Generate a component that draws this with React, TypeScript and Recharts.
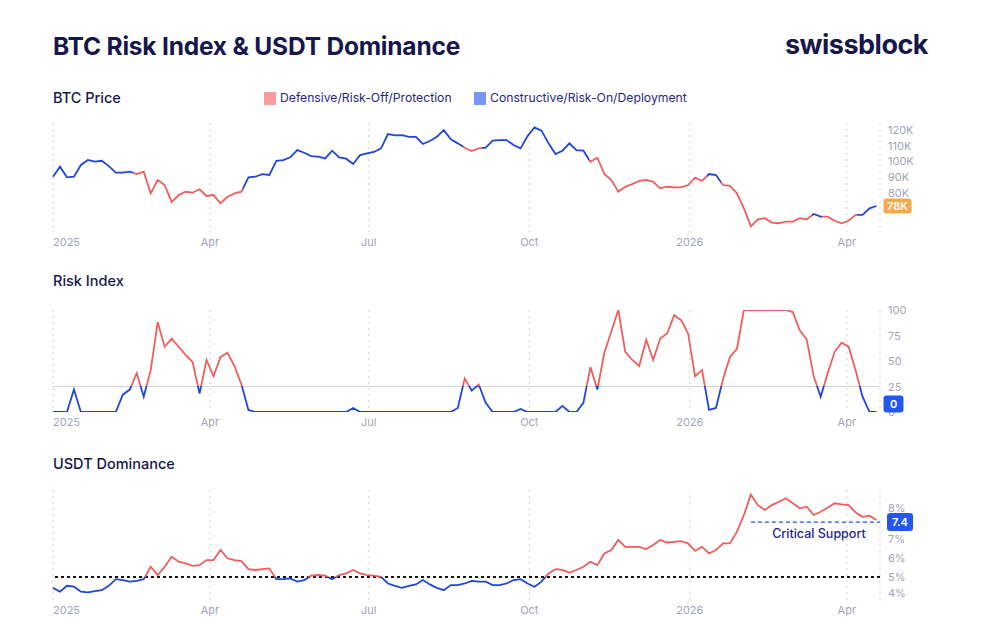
import React from 'react';
import { LineChart, Line, XAxis, YAxis, CartesianGrid, ReferenceLine, ReferenceDot } from 'recharts';

// one value every 4 days, starting Jan 1 2025
const STEP_DAYS = 4;
const LAST_DAY = 474;
const MONTH_TICKS = [0, 90, 181, 273, 365, 455];
const MONTH_LABELS = ['2025', 'Apr', 'Jul', 'Oct', '2026', 'Apr'];

const PRICE_TICKS = [70, 80, 90, 100, 110, 120];
const RISK_TICKS = [0, 25, 50, 75, 100];
const USDT_TICKS = [4, 5, 6, 7, 8];

const PRICE_DOMAIN = [54.9, 124.5];
const RISK_DOMAIN = [0, 100];
const USDT_DOMAIN = [4, 8.8];

// BTC price in thousands of USD
const BTC_PRICE_K = [
  90.2, 96.6, 89.8, 90.2, 97.7, 100.9, 99.8, 100.4, 97.0, 92.8, 92.8, 93.4, 91.9, 93.4, 79.6, 88.1,
  84.9, 74.0, 78.5, 80.6, 80.0, 82.2, 77.9, 78.5, 73.2, 77.4, 79.6, 80.6, 89.8, 90.2, 91.9, 91.3,
  100.4, 100.8, 102.6, 107.2, 105.5, 103.4, 103.0, 101.9, 106.8, 102.6, 101.7, 98.3, 104.0, 105.1, 106.0, 108.3,
  117.4, 116.6, 116.8, 115.7, 115.7, 111.1, 113.0, 115.7, 120.0, 114.1, 111.5, 108.7, 106.6, 108.3, 108.7, 113.2,
  113.6, 113.6, 110.4, 108.3, 116.2, 121.7, 119.6, 111.5, 104.7, 106.8, 111.5, 107.2, 106.8, 99.8, 102.3, 91.9,
  88.1, 80.6, 83.8, 85.5, 87.6, 88.1, 87.0, 82.8, 83.8, 83.4, 83.4, 84.9, 89.6, 87.5, 91.9, 91.3,
  84.9, 84.3, 79.6, 70.0, 58.5, 63.0, 63.7, 60.9, 60.5, 61.5, 61.5, 63.7, 63.0, 66.4, 64.7, 64.7,
  62.1, 60.5, 62.1, 65.8, 65.8, 70.0, 71.5,
];

const RISK_INDEX = [
  0, 0, 0, 22, 0, 0, 0, 0, 0, 0, 17, 22, 38, 15, 41, 88,
  64, 72, 64, 56, 49, 18, 51, 35, 54, 58, 45, 27, 2, 0, 0, 0,
  0, 0, 0, 0, 0, 0, 0, 0, 0, 0, 0, 4, 0, 0, 0, 0,
  0, 0, 0, 0, 0, 0, 0, 0, 0, 0, 4, 33, 21, 27, 9, 0,
  0, 0, 0, 3, 0, 0, 0, 0, 0, 6, 0, 0, 9, 44, 22, 58,
  79, 100, 59, 51, 45, 71, 51, 72, 77, 95, 90, 77, 35, 41, 2, 4,
  32, 54, 62, 100, 100, 100, 100, 100, 100, 100, 98, 80, 71, 35, 15, 38,
  59, 68, 64, 41, 15, 0, 0,
];

// USDT dominance in %
const USDT_DOMINANCE = [
  4.53, 4.36, 4.62, 4.58, 4.36, 4.33, 4.39, 4.43, 4.62, 4.91, 4.87, 4.8, 4.83, 4.91, 5.45, 5.09,
  5.45, 5.89, 5.67, 5.6, 5.49, 5.52, 5.74, 5.74, 6.18, 5.82, 5.74, 5.7, 5.35, 5.31, 5.35, 5.38,
  4.91, 4.91, 4.94, 4.8, 4.87, 5.06, 5.09, 5.06, 4.91, 5.09, 5.16, 5.31, 5.16, 5.09, 5.06, 5.01,
  4.72, 4.62, 4.53, 4.62, 4.68, 4.87, 4.68, 4.53, 4.43, 4.65, 4.65, 4.72, 4.83, 4.8, 4.8, 4.65,
  4.65, 4.72, 4.87, 4.91, 4.72, 4.58, 4.8, 5.16, 5.35, 5.31, 5.2, 5.31, 5.45, 5.67, 5.52, 6.03,
  6.18, 6.62, 6.32, 6.32, 6.32, 6.22, 6.4, 6.62, 6.51, 6.54, 6.57, 6.47, 6.14, 6.32, 6.03, 6.18,
  6.47, 6.47, 6.98, 7.71, 8.6, 8.14, 7.93, 8.14, 8.29, 8.44, 8.22, 8.0, 8.07, 7.71, 7.85, 8.03,
  8.22, 8.17, 8.14, 7.82, 7.63, 7.68, 7.49,
];

// days (from Jan 1 2025) where the regime was Defensive/Risk-Off
const DEFENSIVE_PERIODS = [
  [46, 109],
  [235, 246],
  [307, 375],
  [383, 435],
  [441, 461],
];

const RISK_THRESHOLD = 25;
const USDT_THRESHOLD = 5;
const CRITICAL_SUPPORT = 7.4;
const CRITICAL_SUPPORT_START = 400;
const CRITICAL_LABEL_DAY = 439;
const LAST_PRICE_LABEL = '78K';

const RED = '#ef5d5d';
const BLUE = '#1f46d8';
const BADGE_BLUE = '#2456f2';
const NAVY = '#16174d';
const TICK_GREY = '#a2a5b9';
const FONT = 'Inter, sans-serif';

const rows = BTC_PRICE_K.map((price, i) => ({
  day: i * STEP_DAYS,
  price,
  risk: RISK_INDEX[i],
  usdt: USDT_DOMINANCE[i],
}));
const lastRow = rows[rows.length - 1];

const regimeStops = () => {
  const span = lastRow.day;
  const stops: { offset: number; color: string }[] = [{ offset: 0, color: BLUE }];
  DEFENSIVE_PERIODS.forEach(([a, b]) => {
    stops.push({ offset: a / span, color: BLUE }, { offset: a / span, color: RED });
    stops.push({ offset: b / span, color: RED }, { offset: b / span, color: BLUE });
  });
  stops.push({ offset: 1, color: BLUE });
  return stops;
};

const thresholdOffset = (values: number[], threshold: number) => {
  const max = Math.max(...values);
  const min = Math.min(...values);
  return (max - threshold) / (max - min);
};

const MonthTick = ({ x, y, payload }: any) => (
  <text
    x={x}
    y={y}
    dy={12}
    textAnchor={payload.value === 0 ? 'start' : 'middle'}
    fill={TICK_GREY}
    fontSize={11}
    fontFamily={FONT}
  >
    {MONTH_LABELS[MONTH_TICKS.indexOf(payload.value)]}
  </text>
);

const makeValueTick = (format: (v: number) => string, nudge: Record<number, number> = {}) => ({ x, y, payload }: any) => (
  <text x={x} y={y + (nudge[payload.value] || 0)} dy={4} textAnchor="start" fill={TICK_GREY} fontSize={11} fontFamily={FONT}>
    {format(payload.value)}
  </text>
);

const makeBadge = (text: string, fill: string, w: number, h: number, lift = 0) => ({ cx, cy }: any) => (
  <g>
    <rect x={cx + 7} y={cy - h / 2 - lift} width={w} height={h} rx={3} fill={fill} />
    <text
      x={cx + 7 + w / 2}
      y={cy - lift}
      dy={4}
      textAnchor="middle"
      fill="#fff"
      fontSize={11}
      fontWeight={600}
      fontFamily={FONT}
    >
      {text}
    </text>
  </g>
);

const SupportLabel = ({ cx, cy }: any) => (
  <text x={cx} y={cy} dy={16} textAnchor="middle" fill="#26268a" fontSize={12.5} fontWeight={500} fontFamily={FONT}>
    Critical Support
  </text>
);

const CHART_MARGIN = { top: 10, right: 60, bottom: 0, left: 53 };
// overlay charts hide their axes, so the axis room goes into the margin
const OVERLAY_MARGIN = { top: 10, right: 120, bottom: 20, left: 53 };

const xAxisProps = {
  dataKey: 'day',
  type: 'number' as const,
  domain: [0, LAST_DAY],
  ticks: MONTH_TICKS,
  tick: <MonthTick />,
  tickLine: false,
  axisLine: false,
  tickSize: 0,
  height: 20,
  interval: 0 as const,
};

const yAxisBase = {
  orientation: 'right' as const,
  width: 60,
  tickLine: false,
  axisLine: false,
  tickSize: 0,
  tickMargin: 8,
  allowDataOverflow: true,
  interval: 0 as const,
};

const Grid = () => <CartesianGrid horizontal={false} stroke="#cfd1dc" strokeDasharray="2 4" />;

// badges sit above the tick labels, so they get their own transparent chart on top
const BadgeLayer = ({ top, height, domain, children }: any) => (
  <div style={{ position: 'absolute', left: 0, top }}>
    <LineChart width={1000} height={height} data={rows} margin={OVERLAY_MARGIN}>
      <XAxis dataKey="day" type="number" domain={[0, LAST_DAY]} hide />
      <YAxis domain={domain} hide allowDataOverflow />
      {children}
    </LineChart>
  </div>
);

const panelTitle = (text: string, top: number) => (
  <div style={{ position: 'absolute', left: 53, top, fontSize: 14.5, fontWeight: 500, color: NAVY, lineHeight: 1 }}>{text}</div>
);

const LegendItem = ({ color, label, left }: { color: string; label: string; left: number }) => (
  <div style={{ position: 'absolute', left, top: 92, display: 'flex', alignItems: 'center', gap: 4 }}>
    <div style={{ width: 12, height: 13, background: color }} />
    <span style={{ fontSize: 12.2, color: '#28287e', lineHeight: 1 }}>{label}</span>
  </div>
);

export default function App() {
  const stops = regimeStops();
  const riskSplit = thresholdOffset(RISK_INDEX, RISK_THRESHOLD);
  const usdtSplit = thresholdOffset(USDT_DOMINANCE, USDT_THRESHOLD);

  return (
    <div style={{ position: 'absolute', left: 0, top: 0, width: 1000, height: 639, background: '#fff', fontFamily: FONT }}>
      <div style={{ position: 'absolute', left: 53, top: 34, fontSize: 24.5, fontWeight: 700, color: NAVY, lineHeight: 1, letterSpacing: -0.2 }}>
        BTC Risk Index &amp; USDT Dominance
      </div>
      <div style={{ position: 'absolute', right: 72, top: 31, fontSize: 27, fontWeight: 700, color: NAVY, lineHeight: 1, letterSpacing: -0.5 }}>
        swissblock
      </div>

      {panelTitle('BTC Price', 91)}
      <LegendItem color="#f79e9b" label="Defensive/Risk-Off/Protection" left={264} />
      <LegendItem color="#7896f6" label="Constructive/Risk-On/Deployment" left={474} />

      <div style={{ position: 'absolute', left: 0, top: 113 }}>
        <LineChart width={1000} height={139} data={rows} margin={CHART_MARGIN}>
          <defs>
            <linearGradient id="priceRegime" x1="0" y1="0" x2="1" y2="0">
              {stops.map((s, i) => (
                <stop key={i} offset={s.offset} stopColor={s.color} />
              ))}
            </linearGradient>
          </defs>
          {Grid()}
          <XAxis {...xAxisProps} />
          <YAxis {...yAxisBase} domain={PRICE_DOMAIN} ticks={PRICE_TICKS} tick={makeValueTick((v) => `${v}K`)} />
          <Line
            type="linear"
            dataKey="price"
            stroke="url(#priceRegime)"
            strokeWidth={1.8}
            dot={false}
            isAnimationActive={false}
          />
        </LineChart>
      </div>
      <BadgeLayer top={113} height={139} domain={PRICE_DOMAIN}>
        <ReferenceDot x={lastRow.day} y={lastRow.price} shape={makeBadge(LAST_PRICE_LABEL, '#f7a84a', 28, 15)} />
      </BadgeLayer>

      {panelTitle('Risk Index', 274)}
      <div style={{ position: 'absolute', left: 0, top: 300 }}>
        <LineChart width={1000} height={132} data={rows} margin={CHART_MARGIN}>
          <defs>
            <linearGradient id="riskSplit" x1="0" y1="0" x2="0" y2="1">
              <stop offset={0} stopColor={RED} />
              <stop offset={riskSplit} stopColor={RED} />
              <stop offset={riskSplit} stopColor={BLUE} />
              <stop offset={1} stopColor={BLUE} />
            </linearGradient>
          </defs>
          {Grid()}
          <XAxis {...xAxisProps} />
          <YAxis {...yAxisBase} domain={RISK_DOMAIN} ticks={RISK_TICKS} tick={makeValueTick((v) => `${v}`)} />
          <ReferenceLine y={RISK_THRESHOLD} stroke="#d3d5de" strokeWidth={1} />
          <Line
            type="linear"
            dataKey="risk"
            stroke="url(#riskSplit)"
            strokeWidth={1.8}
            dot={false}
            isAnimationActive={false}
          />
        </LineChart>
      </div>
      <BadgeLayer top={300} height={132} domain={RISK_DOMAIN}>
        <ReferenceDot x={lastRow.day} y={lastRow.risk} shape={makeBadge(String(lastRow.risk), BADGE_BLUE, 20, 17, 8)} />
      </BadgeLayer>

      {panelTitle('USDT Dominance', 457)}
      <div style={{ position: 'absolute', left: 0, top: 480 }}>
        <LineChart width={1000} height={140} data={rows} margin={CHART_MARGIN}>
          <defs>
            <linearGradient id="usdtSplit" x1="0" y1="0" x2="0" y2="1">
              <stop offset={0} stopColor={RED} />
              <stop offset={usdtSplit} stopColor={RED} />
              <stop offset={usdtSplit} stopColor={BLUE} />
              <stop offset={1} stopColor={BLUE} />
            </linearGradient>
          </defs>
          {Grid()}
          <XAxis {...xAxisProps} />
          <YAxis
            {...yAxisBase}
            domain={USDT_DOMAIN}
            ticks={USDT_TICKS}
            tick={makeValueTick((v) => `${v}%`, { 7: 8, 6: 4, 4: -7 })}
          />
          <ReferenceLine y={USDT_THRESHOLD} stroke="#111" strokeWidth={2} strokeDasharray="3 3" />
          <ReferenceLine
            segment={[
              { x: CRITICAL_SUPPORT_START, y: CRITICAL_SUPPORT },
              { x: LAST_DAY, y: CRITICAL_SUPPORT },
            ]}
            stroke="#2a4fe0"
            strokeWidth={1.3}
            strokeDasharray="4 3"
          />
          <Line
            type="linear"
            dataKey="usdt"
            stroke="url(#usdtSplit)"
            strokeWidth={1.8}
            dot={false}
            isAnimationActive={false}
          />
          <ReferenceDot x={CRITICAL_LABEL_DAY} y={CRITICAL_SUPPORT} shape={<SupportLabel />} />
        </LineChart>
      </div>
      <BadgeLayer top={480} height={140} domain={USDT_DOMAIN}>
        <ReferenceDot x={LAST_DAY} y={CRITICAL_SUPPORT} shape={makeBadge(String(CRITICAL_SUPPORT), BADGE_BLUE, 26, 18)} />
      </BadgeLayer>
    </div>
  );
}
